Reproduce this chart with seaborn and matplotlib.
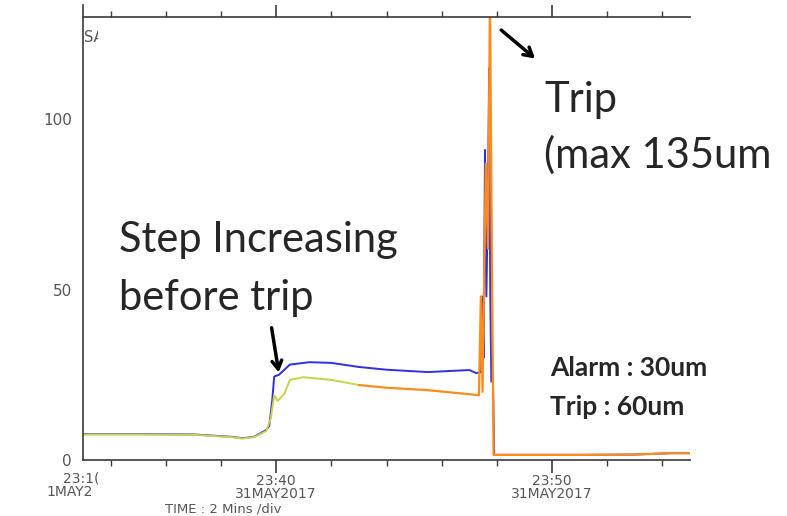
import matplotlib
matplotlib.use("Agg")
import matplotlib.pyplot as plt
import seaborn as sns
from matplotlib.ticker import FixedLocator, NullFormatter
from matplotlib.transforms import Bbox, TransformedBbox

# time axis: minutes after 23:30 on 31MAY2017
blue_t = [3, 5, 7, 8.4, 8.77, 9.2, 9.64, 9.75, 9.86, 9.93, 10.1, 10.5, 11.2, 12, 13, 14,
          15.5, 17.0, 17.25, 17.43, 17.47, 17.52, 17.57, 17.62, 17.68, 17.72, 17.76,
          17.80, 17.86, 17.90, 18.5, 21, 23, 24.3, 25]
blue_v = [7.6, 7.6, 7.5, 6.8, 6.4, 6.8, 8.8, 10, 17.6, 24.5, 25, 28, 28.7, 28.5, 27.3, 26.5,
          25.8, 26.4, 25.5, 25.8, 48, 30, 91, 48, 79, 115, 49, 23, 23, 1.5, 1.5, 1.5,
          1.6, 2, 2]

green_t = [3, 5, 7, 8.4, 8.77, 9.2, 9.64, 9.8, 9.93, 10.05, 10.3, 10.5, 11, 12, 13]
green_v = [7.5, 7.5, 7.4, 6.7, 6.3, 6.7, 8.5, 12, 19, 17.3, 19.5, 23.5, 24.3, 23.5, 22]

orange_t = [13, 14, 15.5, 17.0, 17.35, 17.42, 17.48, 17.6, 17.68, 17.75, 17.82, 17.88,
            18.5, 21, 23, 24.3, 25]
orange_v = [22, 21.2, 20.5, 19.3, 19, 48, 20, 87, 62, 138, 60, 1.5, 1.5, 1.5, 1.6, 2, 2]

y_major = [0, 50, 100]
y_minor = [v for v in range(5, 130, 5) if v not in y_major]
x_major = [10, 20]
x_minor = [4, 6, 8, 12, 14, 16, 18, 22, 24]
x_labels = ["23:40\n31MAY2017", "23:50\n31MAY2017"]

sns.set_style("white")
plt.rcParams["font.family"] = ["DejaVu Sans"]

fig = plt.figure(figsize=(7.87, 5.16), dpi=100)
ax = fig.add_axes([83 / 787, 56 / 516, 607 / 787, 443 / 516])

sns.lineplot(x=blue_t, y=blue_v, color="#2f2fe8", lw=1.4, ax=ax, sort=False)
sns.lineplot(x=green_t, y=green_v, color="#c9d24a", lw=1.4, ax=ax, sort=False)
sns.lineplot(x=orange_t, y=orange_v, color="#ff8c1a", lw=1.6, ax=ax, sort=False)

ax.set_xlim(3, 25)
ax.set_ylim(0, 130)
ax.set_xlabel("")
ax.set_ylabel("")

for side in ["left", "top", "bottom"]:
    ax.spines[side].set_color("#3a3a3a")
    ax.spines[side].set_linewidth(1.2)
ax.spines["right"].set_visible(False)
ax.spines["left"].set_bounds(0, 133.5)

ax.yaxis.set_major_locator(FixedLocator(y_major))
ax.yaxis.set_minor_locator(FixedLocator(y_minor))
ax.xaxis.set_major_locator(FixedLocator(x_major))
ax.xaxis.set_minor_locator(FixedLocator(x_minor))
ax.set_xticklabels(x_labels)
ax.xaxis.set_minor_formatter(NullFormatter())

ax.tick_params(axis="y", which="major", direction="in", length=17, width=1.2,
               color="#3a3a3a", labelsize=11, labelcolor="#555555", pad=8)
ax.tick_params(axis="y", which="minor", direction="in", length=8.5, width=1.0,
               color="#3a3a3a")
ax.tick_params(axis="x", which="major", direction="out", length=9, width=1.2,
               color="#3a3a3a", labelsize=10, labelcolor="#555555", pad=1,
               top=True, bottom=True)
ax.tick_params(axis="x", which="minor", direction="out", length=4, width=1.0,
               color="#3a3a3a", top=True, bottom=True)
for lab in ax.get_xticklabels():
    lab.set_linespacing(0.9)

# clipped labels left over from the original screen capture
fig.text(81 / 787, 1 - 478 / 516, "23:1(", ha="center", va="center",
         fontsize=10, color="#555555")
fig.text(70 / 787, 1 - 492 / 516, "1MAY2", ha="center", va="center",
         fontsize=10, color="#555555")
fig.text(223 / 787, 1 - 509 / 516, "TIME : 2 Mins /div", ha="center", va="center",
         fontsize=9.5, color="#555555")
sa = fig.text(84 / 787, 1 - 37 / 516, "SA", ha="left", va="center",
              fontsize=10.5, color="#555555")
sa.set_clip_box(TransformedBbox(Bbox([[84 / 787, 0.8], [98 / 787, 1.0]]), fig.transFigure))
sa.set_clip_on(True)

# annotations
font = ["Lato", "DejaVu Sans"]
ax.text(4.31, 64.5, "Step Increasing", fontsize=30, family=font, va="center", ha="left")
ax.text(4.31, 47.5, "before trip", fontsize=30, family=font, va="center", ha="left")
ax.text(19.71, 105.6, "Trip", fontsize=30, family=font, va="center", ha="left")
ax.text(19.71, 89.4, "(max 135um", fontsize=30, family=font, va="center", ha="left")
ax.text(19.93, 27, "Alarm : 30um", fontsize=19, family=font, fontweight="bold",
        va="center", ha="left")
ax.text(19.93, 15.5, "Trip : 60um", fontsize=19, family=font, fontweight="bold",
        va="center", ha="left")

arrow = dict(arrowstyle="->,head_length=0.6,head_width=0.35", color="black", lw=2.5)
ax.annotate("", xy=(10.11, 24.9), xytext=(9.82, 39.6), arrowprops=arrow)
ax.annotate("", xy=(19.46, 117.3), xytext=(18.08, 126.7), arrowprops=arrow,
            annotation_clip=False)

fig.savefig("out.png", dpi=100)
